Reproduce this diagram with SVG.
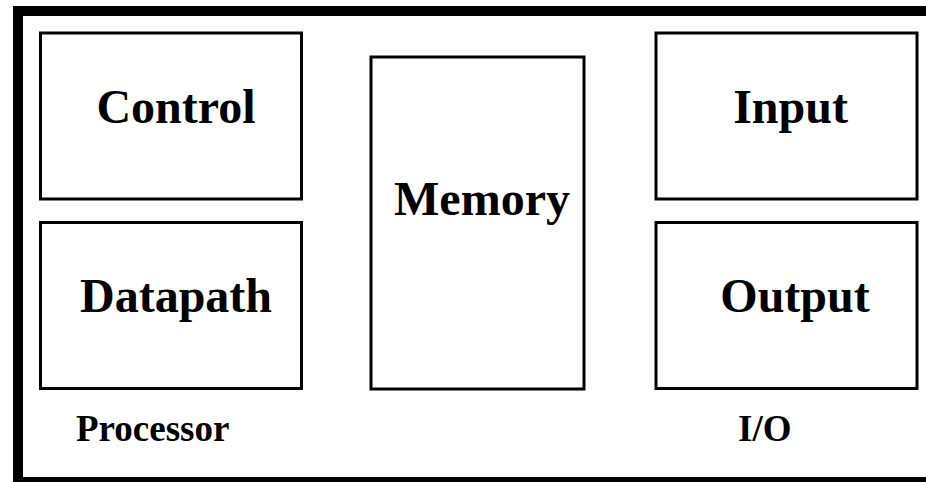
<svg xmlns="http://www.w3.org/2000/svg" width="926" height="482" viewBox="0 0 926 482">
<style>
.box{fill:#fff;stroke:#000;stroke-width:3}
.lbl{font-family:"Liberation Serif","Times New Roman",serif;font-weight:bold;font-size:48px;fill:#000;text-anchor:middle}
.grp{font-family:"Liberation Serif","Times New Roman",serif;font-weight:bold;font-size:37px;fill:#000}
</style>
<rect width="926" height="482" fill="#fff"/>
<g id="frame">
<rect x="18" y="11" width="920" height="471" fill="none" stroke="#000" stroke-width="10"/>
</g>
<g id="control"><rect class="box" x="40.5" y="33" width="261" height="166"/><text class="lbl" x="176" y="122.5">Control</text></g>
<g id="datapath"><rect class="box" x="40.5" y="222.5" width="261" height="166"/><text class="lbl" x="176" y="312">Datapath</text></g>
<g id="memory"><rect class="box" x="371" y="57" width="213" height="332"/><text class="lbl" x="482" y="215">Memory</text></g>
<g id="input"><rect class="box" x="656" y="33" width="261" height="166"/><text class="lbl" x="790.5" y="122.5">Input</text></g>
<g id="output"><rect class="box" x="656" y="222.5" width="261" height="166"/><text class="lbl" x="795" y="312">Output</text></g>
<g id="processor-label"><text class="grp" x="76" y="441">Processor</text></g>
<g id="io-label"><text class="grp" x="738" y="441">I/O</text></g>
<g id="connectors"></g>
</svg>
